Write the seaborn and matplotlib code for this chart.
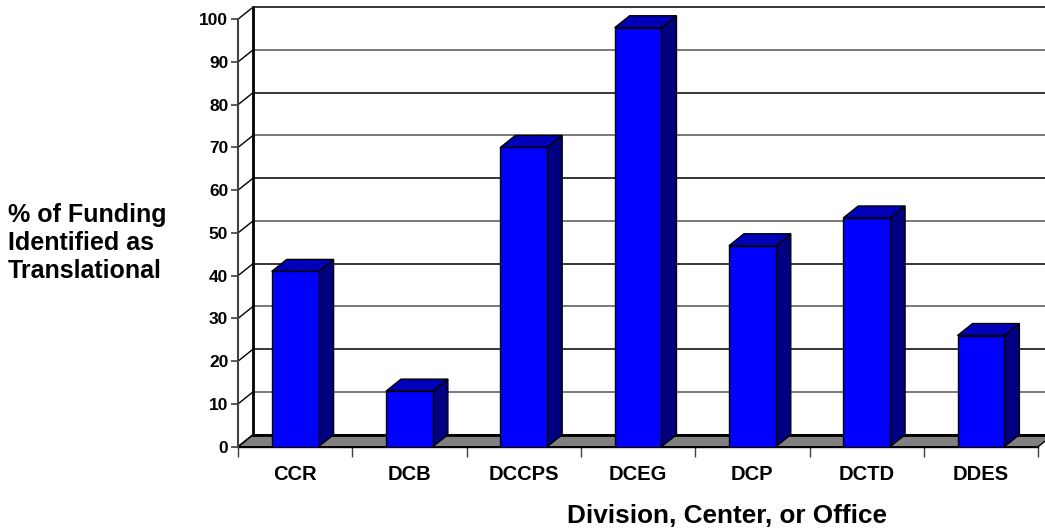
import matplotlib
matplotlib.use("Agg")
import matplotlib.pyplot as plt
from matplotlib.patches import Polygon
import seaborn as sns

# Share of funding identified as translational, by NCI division/center/office
divisions = ["CCR", "DCB", "DCCPS", "DCEG", "DCP", "DCTD", "DDES"]
pct_translational = [41, 13, 70, 98, 47, 53.5, 26]
y_ticks = list(range(0, 101, 10))

sns.set_style("white")
plt.rcParams["font.family"] = ["Liberation Sans", "DejaVu Sans"]
plt.rcParams["font.weight"] = "bold"
plt.rcParams["text.color"] = "black"
plt.rcParams["xtick.labelcolor"] = "black"
plt.rcParams["ytick.labelcolor"] = "black"

W, H = 1045, 531
fig = plt.figure(figsize=(W / 100, H / 100), dpi=100)

# front-plane origin and scale in pixels
x0_px, y0_px = 238.0, 446.7
px_per_cat, px_per_pct = 114.3, 4.275
depth_x = 15 / px_per_cat   # receding depth, category units
depth_y = 12 / px_per_pct   # receding depth, percent units
y_top = 100 + depth_y
ax = fig.add_axes([x0_px / W, (H - y0_px) / H,
                   (W - x0_px) / W, (y_top * px_per_pct) / H])

sns.barplot(x=divisions, y=pct_translational, color="#0000FF", saturation=1,
            width=0.41, edgecolor="black", linewidth=1, ax=ax, zorder=5)

n = len(divisions)
x_left, x_right = -0.5, n - 0.5
ax.set_xlim(x_left, x_left + (W - x0_px) / px_per_cat)
ax.set_ylim(0, y_top)

# floor
ax.add_patch(Polygon([(x_left, 0), (x_right, 0), (x_right + depth_x, depth_y),
                      (x_left + depth_x, depth_y)], closed=True,
                     facecolor="#808080", edgecolor="black", linewidth=1,
                     zorder=1, clip_on=False))
ax.plot([x_left + depth_x, x_right + depth_x], [depth_y, depth_y],
        color="black", lw=2, zorder=2, clip_on=False)

# back wall gridlines and side-wall diagonals
for i, v in enumerate(y_ticks):
    if v > 0:
        ax.plot([x_left + depth_x, x_right + depth_x], [v + depth_y] * 2,
                color="black" if i % 2 == 0 else "#555555", lw=1.1,
                zorder=1, clip_on=False)
    ax.plot([x_left, x_left + depth_x], [v, v + depth_y],
            color="black", lw=1, zorder=1, clip_on=False)
ax.plot([x_left + depth_x] * 2, [depth_y, 100 + depth_y],
        color="black", lw=2, zorder=2, clip_on=False)

# bar tops and sides
for bar in ax.patches:
    if not isinstance(bar, matplotlib.patches.Rectangle):
        continue
    bx, bw, bh = bar.get_x(), bar.get_width(), bar.get_height()
    side = [(bx + bw, 0), (bx + bw + depth_x, depth_y),
            (bx + bw + depth_x, bh + depth_y), (bx + bw, bh)]
    top = [(bx, bh), (bx + depth_x, bh + depth_y),
           (bx + bw + depth_x, bh + depth_y), (bx + bw, bh)]
    ax.add_patch(Polygon(side, closed=True, facecolor="#000080",
                         edgecolor="black", linewidth=1, zorder=4, clip_on=False))
    ax.add_patch(Polygon(top, closed=True, facecolor="#0000B8",
                         edgecolor="black", linewidth=1, zorder=4, clip_on=False))

# axes
for s in ["top", "right"]:
    ax.spines[s].set_visible(False)
ax.spines["left"].set_color("#404040")
ax.spines["left"].set_linewidth(1.5)
ax.spines["left"].set_bounds(0, 100)
ax.spines["bottom"].set_color("black")
ax.spines["bottom"].set_linewidth(1)
ax.spines["bottom"].set_bounds(x_left, x_right)
ax.spines["left"].set_zorder(6)

ax.set_yticks(y_ticks)
ax.set_yticklabels([str(v) for v in y_ticks], fontsize=12.5, fontweight="bold")
ax.tick_params(axis="y", direction="out", length=5, width=1.2,
               color="#404040", pad=2, left=True, labelcolor="black")
ax.set_xticks(range(n))
ax.set_xticklabels(divisions, fontsize=14.5, fontweight="bold")
ax.set_xticks([i - 0.5 for i in range(n + 1)], minor=True)
ax.tick_params(axis="x", which="major", length=0, pad=13, labelcolor="black")
ax.tick_params(axis="x", which="minor", direction="out", length=7,
               width=1, color="#404040", bottom=True)
ax.set_xlabel("")
ax.set_ylabel("")
ax.grid(False)

fig.text(8 / W, 1 - 243 / H, "% of Funding\nIdentified as\nTranslational",
         ha="left", va="center", fontsize=18, fontweight="bold",
         linespacing=1.2, color="black")
fig.text(727 / W, 1 - 516 / H, "Division, Center, or Office",
         ha="center", va="center", fontsize=18.8, fontweight="bold",
         color="black")

fig.savefig("out.png", dpi=100)
